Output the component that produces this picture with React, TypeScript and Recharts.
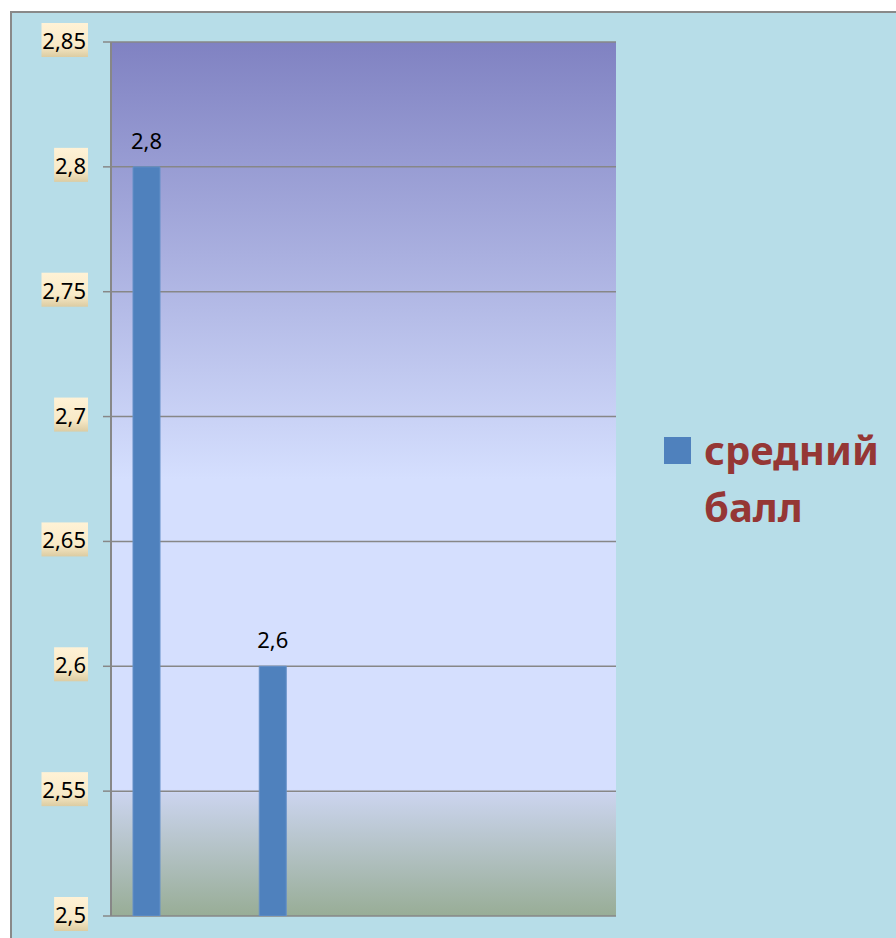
import { BarChart, Bar, XAxis, YAxis, CartesianGrid, LabelList } from 'recharts';

// values
const categories = ['1', '2', '3', '4'];
const averageScore = [2.8, 2.6, null, null];
// two empty series that only reserve room in each cluster (as in the source sheet)
const emptyA = [null, null, null, null];
const emptyB = [null, null, null, null];
const yTicks = [2.5, 2.55, 2.6, 2.65, 2.7, 2.75, 2.8, 2.85];
const seriesName = 'средний балл';

const data = categories.map((c, i) => ({
    name: c,
    score: averageScore[i],
    a: emptyA[i],
    b: emptyB[i]
}));

const FONT = '"Noto Sans", sans-serif';
const fmt = (v: number) => String(v).replace('.', ',');

// rough width of a label in Noto Sans 22px
const labelWidth = (s: string) =>
    s.split('').reduce((w, ch) => w + (ch === ',' ? 5.7 : 12.6), 0);

const YTick = (props: any) => {
    const { x, y, payload } = props;
    const label = fmt(payload.value);
    const w = labelWidth(label);
    return (
        <g>
            <rect x={x - w - 1} y={y - 19} width={w + 3} height={34} fill="url(#tickBg)" />
            <text x={x} y={y + 7} textAnchor="end" fontFamily={FONT} fontSize={22} fill="#000">
                {label}
            </text>
        </g>
    );
};

const TopLabel = (props: any) => {
    const { x, y, width, value } = props;
    if (value == null) return null;
    return (
        <text x={x + width / 2} y={y - 18} textAnchor="middle" fontFamily={FONT} fontSize={22} fill="#000">
            {fmt(value)}
        </text>
    );
};

const App = () => {
    return (
        <>
            <style>{'body{margin:0;overflow:hidden}'}</style>
            <div
                style={{
                    position: 'absolute',
                    left: 10,
                    top: 11,
                    width: 886,
                    height: 927,
                    borderLeft: '2px solid #898989',
                    borderTop: '2px solid #898989',
                    background: '#b7dde8',
                    overflow: 'hidden'
                }}
            >
                <BarChart
                    width={884}
                    height={925}
                    data={data}
                    margin={{ top: 29, right: 280, bottom: 22, left: 0 }}
                    barCategoryGap={22}
                    barGap={0}
                >
                    <defs>
                        <linearGradient id="plotBg" x1="0" y1="0" x2="0" y2="1">
                            <stop offset="0%" stopColor="#8082c2" />
                            <stop offset="50%" stopColor="#d5dffe" />
                            <stop offset="85.5%" stopColor="#d5dffe" />
                            <stop offset="86%" stopColor="#cbd4ee" />
                            <stop offset="100%" stopColor="#98ad96" />
                        </linearGradient>
                        <linearGradient id="tickBg" x1="0" y1="0" x2="0" y2="1">
                            <stop offset="0%" stopColor="#fff2d6" />
                            <stop offset="65%" stopColor="#f8eac8" />
                            <stop offset="100%" stopColor="#dccca2" />
                        </linearGradient>
                    </defs>
                    <CartesianGrid
                        vertical={false}
                        stroke="#878787"
                        strokeWidth={1.5}
                        fill="url(#plotBg)"
                        fillOpacity={1}
                    />
                    <XAxis dataKey="name" hide />
                    <YAxis
                        width={99}
                        domain={[2.5, 2.85]}
                        ticks={yTicks}
                        allowDataOverflow
                        interval={0}
                        tickSize={8}
                        tickMargin={17}
                        tick={<YTick />}
                        axisLine={{ stroke: '#878787', strokeWidth: 2 }}
                        tickLine={{ stroke: '#878787', strokeWidth: 1.5 }}
                    />
                    <Bar dataKey="score" name={seriesName} fill="#4f81bd" stroke="#6590c8" strokeWidth={1} isAnimationActive={false}>
                        <LabelList dataKey="score" content={<TopLabel />} />
                    </Bar>
                    <Bar dataKey="a" fill="#c0504d" legendType="none" isAnimationActive={false} />
                    <Bar dataKey="b" fill="#9bbb59" legendType="none" isAnimationActive={false} />
                </BarChart>

                {/* legend */}
                <div style={{ position: 'absolute', left: 652, top: 424, width: 27, height: 27, background: '#4f81bd' }} />
                <div
                    style={{
                        position: 'absolute',
                        left: 692,
                        top: 408,
                        width: 190,
                        fontFamily: FONT,
                        fontWeight: 700,
                        fontSize: 40,
                        lineHeight: '57px',
                        color: '#953735'
                    }}
                >
                    {seriesName}
                </div>
            </div>
        </>
    );
};

export default App;
